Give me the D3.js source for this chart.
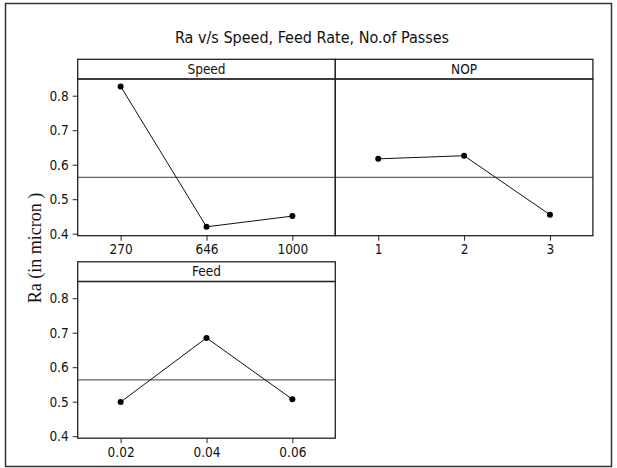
<!DOCTYPE html>
<html>
<head>
<meta charset="utf-8">
<script src="https://cdn.jsdelivr.net/npm/d3@7"></script>
<style>
  body { margin: 0; background: #fff; }
  svg { display: block; }
</style>
</head>
<body>
<div id="chart"></div>
<script>
// Main effects data
const speedLevels = ["270", "646", "1000"];
const speedMeans = [0.827, 0.420, 0.451];
const nopLevels = ["1", "2", "3"];
const nopMeans = [0.617, 0.626, 0.455];
const feedLevels = ["0.02", "0.04", "0.06"];
const feedMeans = [0.499, 0.685, 0.507];
const grandMean = 0.563;
const yTicks = [0.4, 0.5, 0.6, 0.7, 0.8];

const width = 617;
const height = 468;
const font = "Tahoma, 'DejaVu Sans Condensed', 'DejaVu Sans', sans-serif";

// panel geometry
const panelW = 257.6;
const col0 = 77.7;
const stripH = 19.7;
const plotH = 156.7;
const rowTop = [59.3, 261.8];

const panels = [
  { name: "Speed", levels: speedLevels, values: speedMeans, col: 0, row: 0, yAxis: true },
  { name: "NOP", levels: nopLevels, values: nopMeans, col: 1, row: 0, yAxis: false },
  { name: "Feed", levels: feedLevels, values: feedMeans, col: 0, row: 1, yAxis: true }
];

const svg = d3.create("svg").attr("width", width).attr("height", height);

// outer frame
svg.append("rect")
  .attr("x", 5.5).attr("y", 3.5)
  .attr("width", 606).attr("height", 463)
  .attr("fill", "none").attr("stroke", "#333").attr("stroke-width", 1.5);

// title
svg.append("text")
  .attr("x", 312).attr("y", 43)
  .attr("text-anchor", "middle")
  .attr("font-family", font)
  .attr("font-size", 16)
  .attr("fill", "#111")
  .text("Ra v/s Speed, Feed Rate, No.of Passes");

// y label
svg.append("text")
  .attr("transform", "translate(41,248) rotate(-90)")
  .attr("text-anchor", "middle")
  .attr("font-family", "'Liberation Serif', 'Times New Roman', serif")
  .attr("font-size", 18)
  .attr("fill", "#111")
  .text("Ra (in micron )");

panels.forEach(p => {
  const left = col0 + p.col * panelW;
  const top = rowTop[p.row];
  const plotTop = top + stripH;
  const plotBottom = plotTop + plotH;

  const x = d3.scalePoint().domain(p.levels).range([left, left + panelW]).padding(0.5);
  const y = d3.scaleLinear().domain([0.4, 0.8]).range([plotBottom - 2, plotTop + 16.7]);

  const g = svg.append("g");

  // strip
  g.append("rect")
    .attr("x", left).attr("y", top)
    .attr("width", panelW).attr("height", stripH)
    .attr("fill", "#fff").attr("stroke", "#222").attr("stroke-width", 1.3);
  g.append("text")
    .attr("x", left + panelW / 2).attr("y", top + 14.5)
    .attr("text-anchor", "middle")
    .attr("font-family", font).attr("font-size", 13.5).attr("fill", "#111")
    .text(p.name);

  // reference line at grand mean
  g.append("line")
    .attr("x1", left).attr("x2", left + panelW)
    .attr("y1", y(grandMean)).attr("y2", y(grandMean))
    .attr("stroke", "#666").attr("stroke-width", 1.2);

  // main effect line
  const pts = p.levels.map((l, i) => [x(l), y(p.values[i])]);
  g.append("path")
    .attr("d", d3.line()(pts))
    .attr("fill", "none").attr("stroke", "#111").attr("stroke-width", 1);
  g.selectAll("circle").data(pts).join("circle")
    .attr("cx", d => d[0]).attr("cy", d => d[1])
    .attr("r", 3).attr("fill", "#000");

  // plot frame
  g.append("rect")
    .attr("x", left).attr("y", plotTop)
    .attr("width", panelW).attr("height", plotH)
    .attr("fill", "none").attr("stroke", "#222").attr("stroke-width", 1.3);

  // x axis
  const xAxis = d3.axisBottom(x).tickSize(5).tickPadding(4);
  svg.append("g")
    .attr("transform", `translate(0,${plotBottom})`)
    .call(xAxis)
    .call(a => a.select(".domain").remove())
    .call(a => a.selectAll("line").attr("stroke", "#222"))
    .call(a => a.selectAll("text").attr("font-family", font).attr("font-size", 13.5).attr("fill", "#111"));

  if (p.yAxis) {
    const yAxis = d3.axisLeft(y).tickValues(yTicks).tickFormat(d3.format(".1f")).tickSize(5).tickPadding(4);
    svg.append("g")
      .attr("transform", `translate(${left},0)`)
      .call(yAxis)
      .call(a => a.select(".domain").remove())
      .call(a => a.selectAll("line").attr("stroke", "#222"))
      .call(a => a.selectAll("text").attr("font-family", font).attr("font-size", 13.5).attr("fill", "#111"));
  }
});

d3.select("#chart").node().appendChild(svg.node());
</script>
</body>
</html>
